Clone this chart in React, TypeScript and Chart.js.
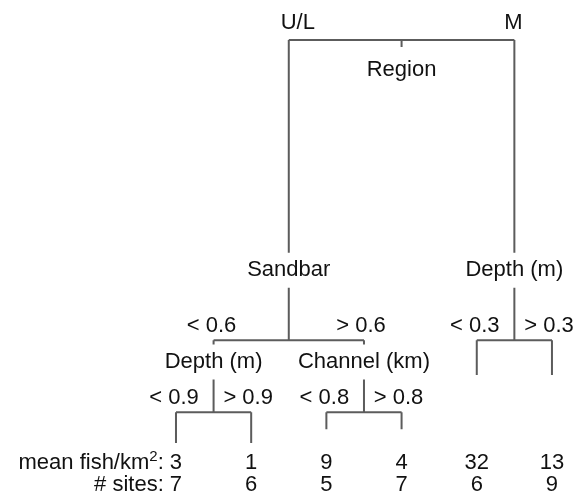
import React, { useEffect, useRef } from "react";
import { Chart, registerables } from "chart.js";

Chart.register(...registerables);

const leafMeans = [3, 1, 9, 4, 32, 13];
const leafSites = [7, 6, 5, 7, 6, 9];
const leafHeights = [4.7, 4.7, 8.0, 8.0, 20.8, 20.8];
const splitVariables = ["Region", "Sandbar", "Depth (m)", "Depth (m)", "Channel (km)"];
const splitHeights = [100, 29, 29, 12, 12];
const leftBranchLabels = ["U/L", "< 0.6", "< 0.3", "< 0.9", "< 0.8"];
const rightBranchLabels = ["M", "> 0.6", "> 0.3", "> 0.9", "> 0.8"];
const splitChildren: string[][] = [
  ["n1", "n2"],
  ["n3", "n4"],
  ["l4", "l5"],
  ["l0", "l1"],
  ["l2", "l3"],
];
const rowLabels = ["mean fish/km", "# sites:"];

// ---- style / layout constants ----
const X_MIN = -2.234;
const X_MAX = 5.426;
const Y_MIN = -6.86;
const Y_MAX = 107.57;
const PX_PER_UNIT = 4.23;
const LINE_COLOR = "#5c5c5c";
const TEXT_COLOR = "#111111";
const FONT_FAMILY = "'Liberation Sans', Arial, Helvetica, sans-serif";
const FONT_SIZE = 22;

type NodeRef = { kind: "n" | "l"; idx: number };
const parseRef = (s: string): NodeRef => ({ kind: s[0] as "n" | "l", idx: parseInt(s.slice(1), 10) });

function nodeX(ref: NodeRef): number {
  if (ref.kind === "l") return ref.idx;
  const [a, b] = splitChildren[ref.idx].map(parseRef);
  return (nodeX(a) + nodeX(b)) / 2;
}
function nodeH(ref: NodeRef): number {
  return ref.kind === "l" ? leafHeights[ref.idx] : splitHeights[ref.idx];
}
// parent of each internal node
const parentOf: Record<number, number> = {};
splitChildren.forEach((ch, i) => ch.forEach((c) => {
  const r = parseRef(c);
  if (r.kind === "n") parentOf[r.idx] = i;
}));
function labelH(i: number): number {
  if (i === 0) return splitHeights[0] - 30 / PX_PER_UNIT;
  const hp = splitHeights[parentOf[i]];
  const hn = splitHeights[i];
  return hn + Math.min(70 / PX_PER_UNIT, 0.7 * (hp - hn));
}
const GAP = 17.5 / PX_PER_UNIT;

function buildSegments() {
  const segs: { x: number; y: number }[][] = [];
  splitChildren.forEach((ch, i) => {
    const refs = ch.map(parseRef);
    const h = splitHeights[i];
    const xs = refs.map(nodeX);
    segs.push([{ x: xs[0], y: h }, { x: xs[1], y: h }]);
    refs.forEach((r, k) => {
      const hc = nodeH(r);
      if (r.kind === "n") {
        const lh = labelH(r.idx);
        segs.push([{ x: xs[k], y: h }, { x: xs[k], y: lh + GAP }]);
        segs.push([{ x: xs[k], y: lh - GAP }, { x: xs[k], y: hc }]);
      } else {
        segs.push([{ x: xs[k], y: h }, { x: xs[k], y: hc }]);
      }
    });
  });
  const rx = nodeX({ kind: "n", idx: 0 });
  segs.push([{ x: rx, y: splitHeights[0] }, { x: rx, y: splitHeights[0] - 7 / PX_PER_UNIT }]);
  return segs;
}

const textPlugin = {
  id: "treeText",
  afterDatasetsDraw(chart: any) {
    const ctx = chart.ctx as CanvasRenderingContext2D;
    const xs = chart.scales.x;
    const ys = chart.scales.y;
    const px = (v: number) => xs.getPixelForValue(v);
    const py = (v: number) => ys.getPixelForValue(v);
    ctx.save();
    ctx.fillStyle = TEXT_COLOR;
    ctx.textBaseline = "middle";
    ctx.textAlign = "center";
    ctx.font = `${FONT_SIZE}px ${FONT_FAMILY}`;
    splitChildren.forEach((ch, i) => {
      const refs = ch.map(parseRef);
      const x = nodeX({ kind: "n", idx: i });
      ctx.fillText(splitVariables[i], px(x), py(labelH(i)));
      const cx = refs.map(nodeX);
      if (i === 0) {
        const by = py(splitHeights[0]) - 17;
        ctx.fillText(leftBranchLabels[i], px(cx[0]) + 9, by);
        ctx.fillText(rightBranchLabels[i], px(cx[1]) - 1, by);
      } else {
        const by = py(splitHeights[i]) - 14;
        ctx.fillText(leftBranchLabels[i], px(cx[0]) - 2, by);
        ctx.fillText(rightBranchLabels[i], px(cx[1]) - 3, by);
      }
    });
    // leaf rows
    const meanY = py(0);
    const sitesY = meanY + 22;
    leafMeans.forEach((m, i) => ctx.fillText(String(m), px(i), meanY));
    leafSites.forEach((s, i) => ctx.fillText(String(s), px(i), sitesY));
    // row labels
    ctx.textAlign = "left";
    const firstHalfMean = ctx.measureText(String(leafMeans[0])).width / 2;
    const r1 = px(0) - firstHalfMean;
    const colon = ": ";
    const wColon = ctx.measureText(colon).width;
    ctx.font = `${Math.round(FONT_SIZE * 0.68)}px ${FONT_FAMILY}`;
    const wSup = ctx.measureText("2").width;
    ctx.fillText("2", r1 - wColon - wSup, meanY - 6);
    ctx.font = `${FONT_SIZE}px ${FONT_FAMILY}`;
    const wMain = ctx.measureText(rowLabels[0]).width;
    ctx.fillText(rowLabels[0], r1 - wColon - wSup - wMain, meanY);
    ctx.fillText(colon, r1 - wColon, meanY);
    const firstHalfSites = ctx.measureText(String(leafSites[0])).width / 2;
    const r2 = px(0) - firstHalfSites;
    ctx.textAlign = "right";
    ctx.fillText(rowLabels[1] + " ", r2, sitesY);
    ctx.restore();
  },
};

export default function App() {
  const ref = useRef<HTMLCanvasElement | null>(null);
  useEffect(() => {
    if (!ref.current) return;
    const segs = buildSegments();
    const chart = new Chart(ref.current, {
      type: "scatter",
      data: {
        datasets: segs.map((s) => ({
          data: s,
          showLine: true,
          borderColor: LINE_COLOR,
          borderWidth: 2,
          pointRadius: 0,
          fill: false,
          borderCapStyle: "butt",
        })),
      } as any,
      options: {
        animation: false,
        responsive: true,
        maintainAspectRatio: false,
        layout: { padding: 0 },
        events: [],
        scales: {
          x: { type: "linear", display: false, min: X_MIN, max: X_MAX },
          y: { type: "linear", display: false, min: Y_MIN, max: Y_MAX },
        },
        plugins: { legend: { display: false }, tooltip: { enabled: false }, title: { display: false } },
      } as any,
      plugins: [textPlugin],
    });
    return () => chart.destroy();
  }, []);
  return (
    <div style={{ width: 576, height: 484, position: "relative" }}>
      <canvas ref={ref} style={{ display: "block" }} />
    </div>
  );
}
